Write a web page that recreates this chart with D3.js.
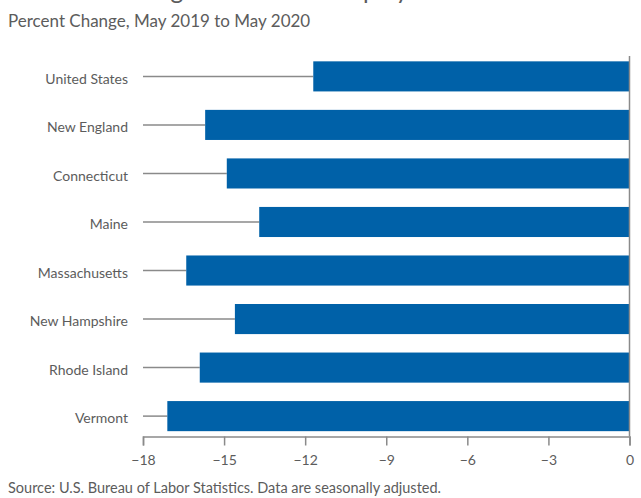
<!DOCTYPE html>
<html>
<head>
<meta charset="utf-8">
<script src="https://cdn.jsdelivr.net/npm/d3@7"></script>
<style>
  html, body { margin: 0; padding: 0; background: #fff; }
  svg { display: block; }
  text { font-family: "Lato", "Open Sans", sans-serif; fill: #5c5c5c; }
</style>
</head>
<body>
<svg id="chart" width="641" height="498"></svg>
<script>
// Nonfarm employment, percent change May 2019 to May 2020
const areas = ["United States", "New England", "Connecticut", "Maine",
               "Massachusetts", "New Hampshire", "Rhode Island", "Vermont"];
const pctChange = [-11.7, -15.7, -14.9, -13.7, -16.4, -14.6, -15.9, -17.1];
const xTicks = [-18, -15, -12, -9, -6, -3, 0];

const titleText = "Over-the-Year Change in Nonfarm Employment";
const subtitleText = "Percent Change, May 2019 to May 2020";
const sourceText = "Source: U.S. Bureau of Labor Statistics. Data are seasonally adjusted.";

const data = areas.map((a, i) => ({ area: a, value: pctChange[i] }));

const svg = d3.select("#chart");
const plotLeft = 143, plotRight = 629.5, plotTop = 56, plotBottom = 436.5;

const x = d3.scaleLinear().domain([-18, 0]).range([plotLeft, plotRight]);
const y = d3.scaleBand().domain(areas).range([plotTop, plotBottom])
  .paddingInner(0.38).paddingOuter(0.11);

const blue = "#0061a8", grey = "#8a8a8a";

// title (its upper part runs past the top edge) and subtitle
svg.append("text").attr("x", -42).attr("y", -1)
  .attr("font-size", 24.4).text(titleText);
svg.append("text").attr("x", 8).attr("y", 27)
  .attr("font-size", 17).text(subtitleText);

// leader lines from the left edge to each bar
svg.append("g").selectAll("line").data(data).join("line")
  .attr("x1", x(-18)).attr("x2", d => x(d.value))
  .attr("y1", d => y(d.area) + y.bandwidth() / 2)
  .attr("y2", d => y(d.area) + y.bandwidth() / 2)
  .attr("stroke", grey).attr("stroke-width", 1.5);

// bars
svg.append("g").selectAll("rect").data(data).join("rect")
  .attr("x", d => x(d.value))
  .attr("width", d => x(0) - x(d.value))
  .attr("y", d => y(d.area))
  .attr("height", y.bandwidth())
  .attr("fill", blue);

// zero line
svg.append("line")
  .attr("x1", x(0)).attr("x2", x(0))
  .attr("y1", plotTop).attr("y2", plotBottom)
  .attr("stroke", grey).attr("stroke-width", 1.5);

// category labels
svg.append("g").selectAll("text").data(data).join("text")
  .attr("x", 128)
  .attr("y", d => y(d.area) + y.bandwidth() / 2)
  .attr("dy", "0.52em")
  .attr("text-anchor", "end")
  .attr("font-size", 14)
  .text(d => d.area);

// x axis
const axis = svg.append("g").attr("transform", `translate(0,${plotBottom})`)
  .call(d3.axisBottom(x).tickValues(xTicks).tickSize(9).tickPadding(10)
    .tickFormat(d => d3.format("d")(d).replace("-", "\u2212")));
axis.select(".domain").attr("stroke", grey).attr("stroke-width", 1.5);
axis.selectAll(".tick line").attr("stroke", grey).attr("stroke-width", 1.5);
axis.selectAll(".tick text")
  .attr("font-family", "Lato, sans-serif")
  .attr("font-size", 14).attr("fill", "#5c5c5c");

// source note
svg.append("text").attr("x", 8).attr("y", 493)
  .attr("font-size", 14.5).text(sourceText);
</script>
</body>
</html>
